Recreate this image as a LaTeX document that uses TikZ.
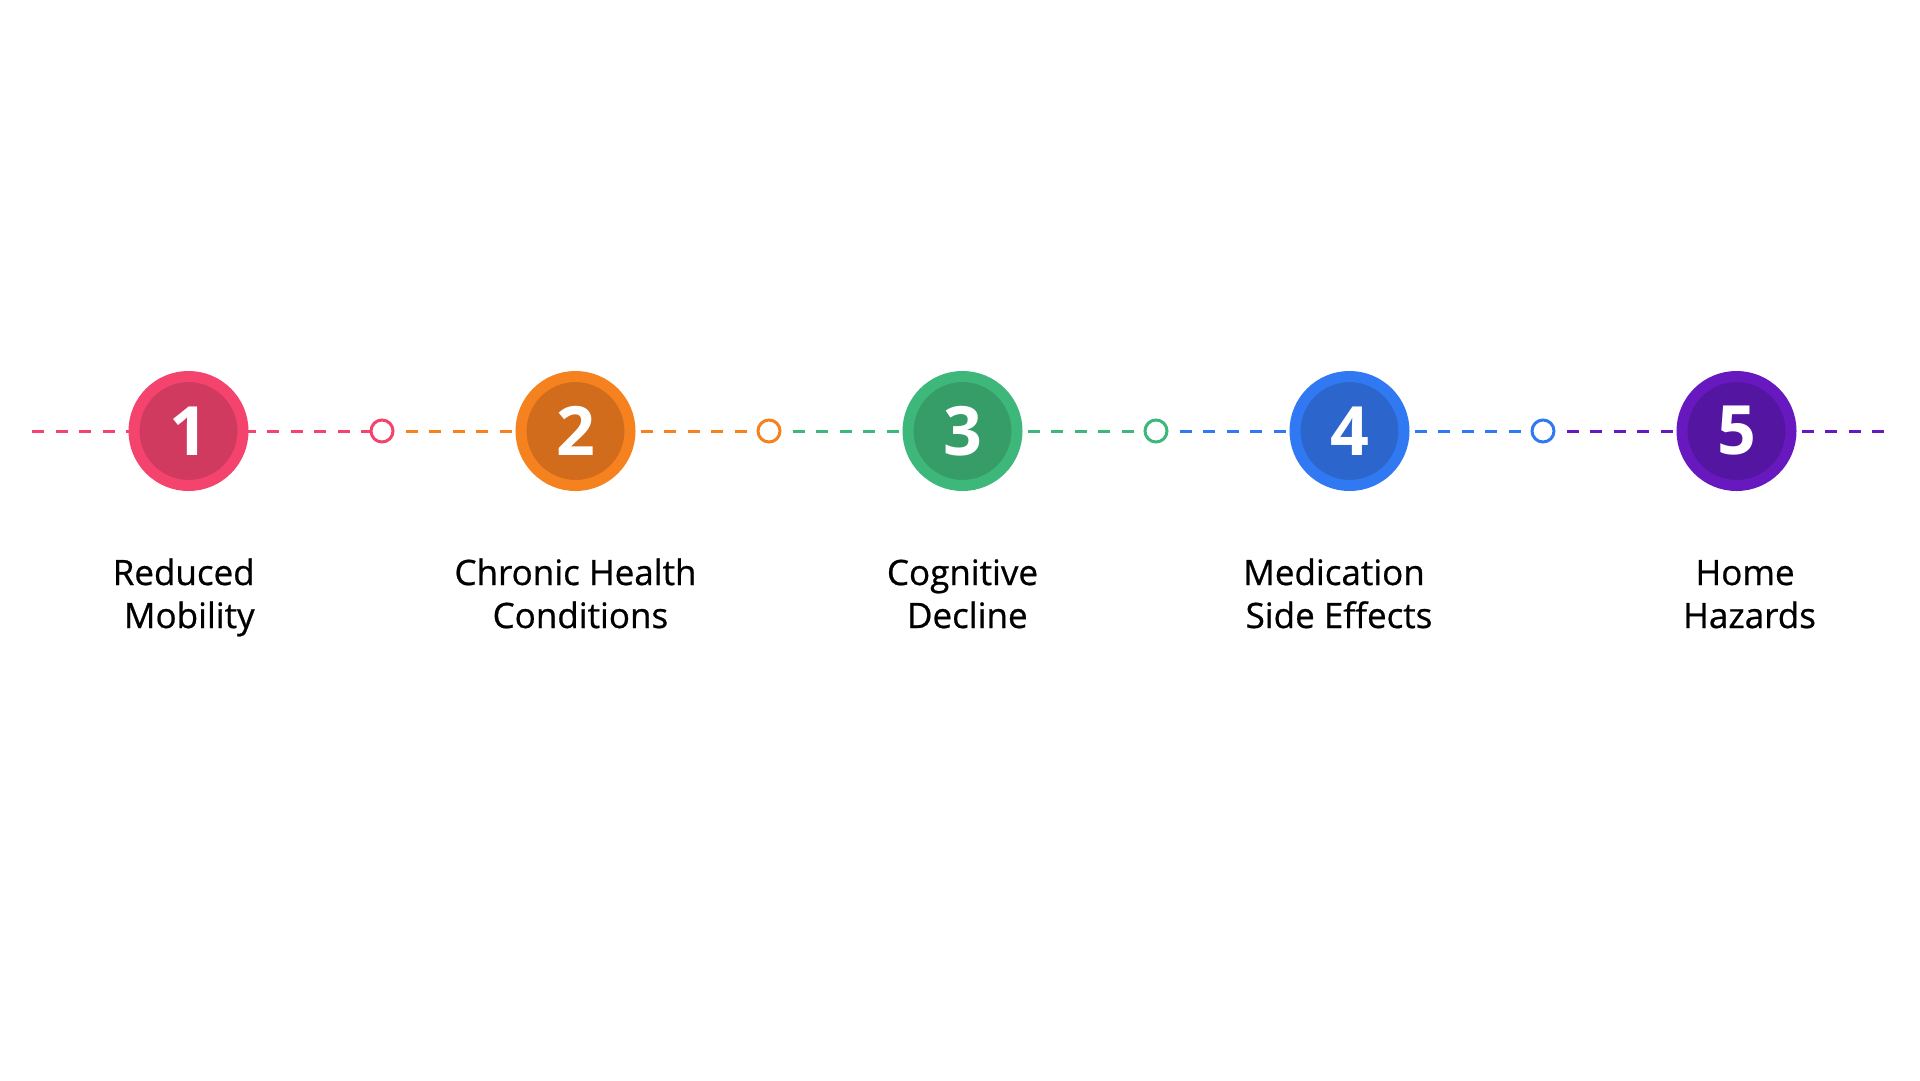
\documentclass[tikz,border=0pt]{standalone}
\usepackage{fontspec}
\setmainfont{Open Sans}
\newfontfamily\lblfont[FakeBold=0.7]{Open Sans}
\usetikzlibrary{backgrounds}
\definecolor{pkO}{HTML}{F4446E}\definecolor{pkI}{HTML}{CF3A5E}
\definecolor{orO}{HTML}{F5821F}\definecolor{orI}{HTML}{D06C1C}
\definecolor{grO}{HTML}{3DB87A}\definecolor{grI}{HTML}{369C68}
\definecolor{blO}{HTML}{3179F2}\definecolor{blI}{HTML}{2C66CC}
\definecolor{puO}{HTML}{6818BF}\definecolor{puI}{HTML}{5415A0}
\tikzset{
  bigc/.style 2 args={circle, fill=#2, draw=#1, line width=11pt, minimum size=109pt, inner sep=0pt,
    text=white, font=\fontsize{68}{68}\selectfont\bfseries},
  smallc/.style={circle, fill=white, draw=#1, line width=3pt, minimum size=22pt, inner sep=0pt},
  conn/.style={draw=#1, line width=3pt, dash pattern=on 12pt off 11.5pt},
  lbl/.style={anchor=base, inner sep=0pt, font=\lblfont\fontsize{35}{40}\selectfont, text=black}
}
\begin{document}
\begin{tikzpicture}[x=1pt,y=-1pt]
\useasboundingbox (0,0) rectangle (1920,1080);
\coordinate (L) at (32,431);
\coordinate (R) at (1888,431);
\node[bigc={pkO}{pkI}] (c1) at (188.5,431) {1};
\node[bigc={orO}{orI}] (c2) at (575.5,431) {2};
\node[bigc={grO}{grI}] (c3) at (962.5,431) {3};
\node[bigc={blO}{blI}] (c4) at (1349.5,431) {4};
\node[bigc={puO}{puI}] (c5) at (1736.5,431) {5};
\node[smallc=pkO] (s1) at (382,431) {};
\node[smallc=orO] (s2) at (769,431) {};
\node[smallc=grO] (s3) at (1156,431) {};
\node[smallc=blO] (s4) at (1543,431) {};
\begin{pgfonlayer}{background}
\fill[white] (0,0) rectangle (1920,1080);
\path[conn=pkO] (L) -- (c1.center) -- (s1.center);
\path[conn=orO] (s1.center) -- (c2.center) -- (s2.center);
\path[conn=grO] (s2.center) -- (c3.center) -- (s3.center);
\path[conn=blO] (s3.center) -- (c4.center) -- (s4.center);
\path[conn=puO] (s4.center) -- (c5.center) -- (R);
\end{pgfonlayer}
\node[lbl] (t1a) at (183.7,585) {Reduced};
\node[lbl] (t1b) at (189.3,628) {Mobility};
\node[lbl] (t2a) at (575.5,585) {Chronic Health};
\node[lbl] (t2b) at (580.4,628) {Conditions};
\node[lbl] (t3a) at (962.5,585) {Cognitive};
\node[lbl] (t3b) at (967.3,628) {Decline};
\node[lbl] (t4a) at (1334,585) {Medication};
\node[lbl] (t4b) at (1339,628) {Side Effects};
\node[lbl] (t5a) at (1745,585) {Home};
\node[lbl] (t5b) at (1749.5,628) {Hazards};
\end{tikzpicture}
\end{document}
